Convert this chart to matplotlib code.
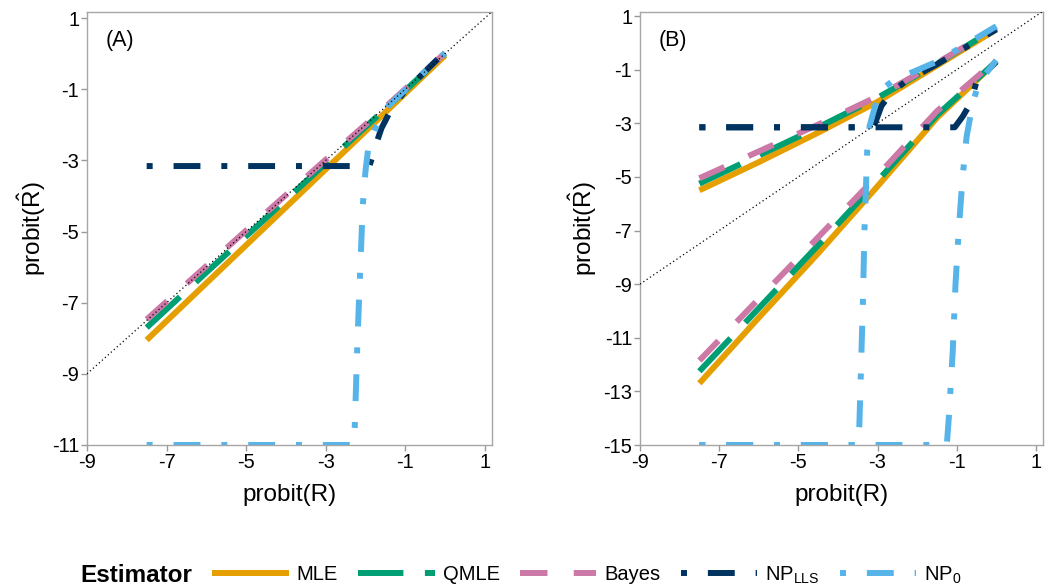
import numpy as np
import matplotlib.pyplot as plt
from matplotlib.lines import Line2D

plt.rcParams['font.family'] = ['Liberation Sans', 'DejaVu Sans']
plt.rcParams['mathtext.fontset'] = 'custom'
plt.rcParams['mathtext.rm'] = 'Liberation Sans'
plt.rcParams['mathtext.it'] = 'Liberation Sans:italic'
plt.rcParams['mathtext.bf'] = 'Liberation Sans:bold'
plt.rcParams['axes.unicode_minus'] = False

# ---- data ----
x_grid = [-7.5, -6, -4.5, -3, -1.5, 0]

# panel A
mle_a = [-8.05, -6.45, -4.85, -3.25, -1.65, -0.05]
qmle_a = [-7.7, -6.15, -4.62, -3.08, -1.55, 0.0]
bayes_a = [-7.47, -5.97, -4.47, -2.98, -1.5, 0.02]
np_lls_a_x = [-7.5, -1.9, -1.75, -1.6, -1.3, -1.0, -0.5, 0]
np_lls_a_y = [-3.16, -3.16, -2.6, -2.1, -1.45, -1.05, -0.5, 0.05]
np0_a_x = [-7.5, -2.3, -2.27, -2.2, -2.13, -2.07, -2.0, -1.93, -1.75, -1.45, -1.0, -0.5, 0]
np0_a_y = [-11, -11, -10.5, -8.0, -6.0, -4.3, -3.3, -2.65, -2.1, -1.5, -1.02, -0.5, 0.02]

# panel B, upper branch
mle_b1 = [-5.5, -4.45, -3.35, -2.2, -0.85, 0.5]
qmle_b1 = [-5.25, -4.2, -3.15, -2.05, -0.78, 0.55]
bayes_b1 = [-5.05, -4.05, -3.05, -2.0, -0.75, 0.55]
# panel B, lower branch
mle_b2 = [-12.7, -10.25, -7.85, -5.35, -2.8, -0.7]
qmle_b2 = [-12.25, -9.9, -7.55, -5.15, -2.7, -0.7]
bayes_b2 = [-11.85, -9.55, -7.25, -4.95, -2.55, -0.65]

np_lls_b1_x = [-7.5, -3.1, -2.9, -2.65, -2.3, -1.5, 0]
np_lls_b1_y = [-3.15, -3.15, -2.35, -1.85, -1.45, -0.8, 0.5]
np_lls_b2_x = [-7.5, -1.05, -0.85, -0.65, -0.5, 0]
np_lls_b2_y = [-3.15, -3.15, -2.75, -2.25, -1.45, -0.7]
np0_b1_x = [-7.5, -3.5, -3.46, -3.37, -3.33, -3.26, -3.2, -3.05, -2.95, -2.6, -1.5, 0]
np0_b1_y = [-15, -15, -14.3, -9.7, -7.0, -4.0, -3.1, -2.3, -1.8, -1.4, -0.7, 0.62]
np0_b2_x = [-7.5, -1.25, -1.2, -1.1, -1.03, -0.95, -0.85, -0.75, -0.6, -0.45, 0]
np0_b2_y = [-15, -15, -14.0, -11.5, -9.0, -7.0, -5.0, -3.5, -2.3, -1.5, -0.65]

labels = ['MLE', 'QMLE', 'Bayes', r'NP$_{\mathrm{LLS}}$', r'NP$_0$']
colors = ['#E69F00', '#009E73', '#CC79A7', '#00335F', '#56B4E9']
styles = ['-', (0, (7.6, 3.6)), (0, (4.6, 4.4)), (0, (1, 3.5, 4.5, 3.5)), (0, (1, 3.5, 4.5, 3.5))]
LW = 4.3

fig = plt.figure(figsize=(10.62, 5.88), dpi=100)
axA = fig.add_axes([87 / 1062, 1 - 445 / 588, 405 / 1062, 433 / 588])
axB = fig.add_axes([640 / 1062, 1 - 445 / 588, 403 / 1062, 433 / 588])


def draw(ax, k, x, y):
    ax.plot(x, y, color=colors[k], linestyle=styles[k], lw=LW,
            solid_capstyle='butt', dash_capstyle='butt')


draw(axA, 0, x_grid, mle_a)
draw(axA, 1, x_grid, qmle_a)
draw(axA, 2, x_grid, bayes_a)
draw(axA, 3, np_lls_a_x, np_lls_a_y)
draw(axA, 4, np0_a_x, np0_a_y)

for k, pair in enumerate([(mle_b1, mle_b2), (qmle_b1, qmle_b2), (bayes_b1, bayes_b2)]):
    for y in pair:
        draw(axB, k, x_grid, y)
draw(axB, 3, np_lls_b1_x, np_lls_b1_y)
draw(axB, 3, np_lls_b2_x, np_lls_b2_y)
draw(axB, 4, np0_b1_x, np0_b1_y)
draw(axB, 4, np0_b2_x, np0_b2_y)

for ax, ymin, ymax, tag in [(axA, -11, 1.17, '(A)'), (axB, -15, 1.15, '(B)')]:
    ax.axline((0, 0), (1, 1), color='black', lw=0.9, ls=(0, (1, 2.2)), zorder=5)
    ax.set_xlim(-9, 1.18)
    ax.set_ylim(ymin, ymax)
    ax.set_xticks(np.arange(-9, 2, 2))
    ax.set_yticks(np.arange(ymin, 2, 2))
    ax.tick_params(direction='out', length=4, width=1, color='#999999',
                   labelsize=14.5, pad=1.5)
    for s in ax.spines.values():
        s.set_color('#A6A6A6')
        s.set_linewidth(1)
    ax.set_xlabel('probit(R)', fontsize=17.5, labelpad=9)
    ax.set_ylabel(r'probit$(\hat{\mathrm{R}})$', fontsize=17.5, labelpad=3)
    ax.text(0.045, 0.935, tag, transform=ax.transAxes, fontsize=15.5,
            va='center', ha='left')

handles = [Line2D([], [], color=c, linestyle=s, lw=LW, solid_capstyle='butt',
                  dash_capstyle='butt') for c, s in zip(colors, styles)]
fig.text(80 / 1062, 0.022, 'Estimator', fontsize=17.5, fontweight='bold',
         va='center', ha='left')
fig.legend(handles, labels, ncol=5, loc='center left',
           bbox_to_anchor=(212 / 1062, 0.022), frameon=False, fontsize=14.5,
           handlelength=3.8, handletextpad=0.4, columnspacing=1.0,
           borderpad=0, borderaxespad=0)

fig.savefig('out.png', dpi=100)
